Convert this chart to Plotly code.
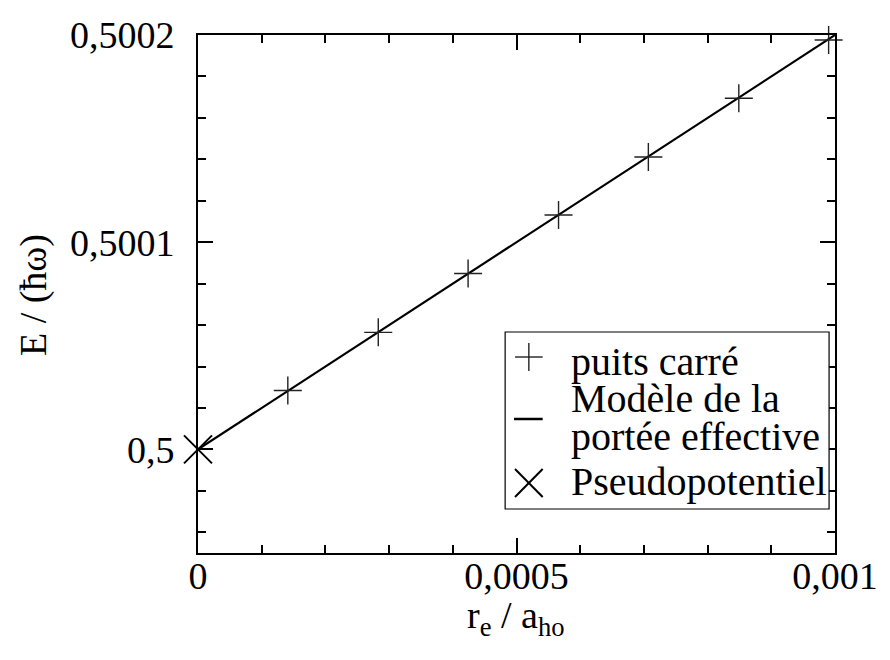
import plotly.graph_objects as go

# Square-well results: ground-state energy vs effective range
r_puits = [0.000141, 0.000283, 0.000424, 0.000566, 0.000707, 0.000849, 0.000990]
E_puits = [0.5000284, 0.5000565, 0.5000849, 0.5001131, 0.5001411, 0.5001695, 0.5001976]

# Effective-range model (straight line)
r_modele = [0.0, 0.001]
E_modele = [0.5, 0.5002]

# Pseudopotential (zero range)
r_pseudo = [0.0]
E_pseudo = [0.5]

# Axis ticks
x_tickvals = [0.0, 0.0005, 0.001]
x_ticktext = ["0", "0,0005", "0,001"]
y_tickvals = [0.5, 0.5001, 0.5002]
y_ticktext = ["0,5", "0,5001", "0,5002"]

legend_labels = ["puits carré", "Modèle de la", "portée effective", "Pseudopotentiel"]

FONT = "Liberation Serif"
FS = 38
FS_LEG = 40

W, H = 890, 660
L, R, T, B = 198, 843, 35, 553


def px(p):
    return (p - L) / (R - L)


def py(p):
    return (B - p) / (B - T)


fig = go.Figure()

fig.add_trace(go.Scatter(
    x=r_modele, y=E_modele, mode="lines",
    line=dict(color="black", width=2.2),
    showlegend=False, cliponaxis=False,
))
fig.add_trace(go.Scatter(
    x=r_puits, y=E_puits, mode="markers",
    marker=dict(symbol="cross-thin", size=20, line=dict(color="#222", width=1.4)),
    showlegend=False, cliponaxis=False,
))
fig.add_trace(go.Scatter(
    x=r_pseudo, y=E_pseudo, mode="markers",
    marker=dict(symbol="x-thin", size=28, line=dict(color="black", width=2)),
    showlegend=False, cliponaxis=False,
))

axis_common = dict(
    showline=True, linecolor="black", linewidth=2,
    mirror="ticks", ticks="inside", ticklen=15, tickwidth=1.5, tickcolor="black",
    showgrid=False, zeroline=False,
    tickfont=dict(family=FONT, size=FS, color="black"),
)

fig.update_xaxes(
    range=[0, 0.001], tickmode="array", tickvals=x_tickvals, ticktext=x_ticktext,
    minor=dict(tickmode="linear", tick0=0, dtick=0.0001, ticks="inside",
               ticklen=8, tickwidth=1.5, tickcolor="black"),
    ticklabelstandoff=-12,
    **axis_common,
)
fig.update_yaxes(
    range=[0.49995, 0.5002], tickmode="array", tickvals=y_tickvals, ticktext=y_ticktext,
    minor=dict(tickmode="linear", tick0=0.5, dtick=0.00002, ticks="inside",
               ticklen=8, tickwidth=1.5, tickcolor="black"),
    ticklabelstandoff=14,
    **axis_common,
)

shapes = []
annotations = []

# Legend frame
shapes.append(dict(type="rect", xref="paper", yref="paper",
                   x0=px(509), x1=px(837), y0=py(509), y1=py(332),
                   line=dict(color="black", width=1.2), fillcolor="white", layer="above"))
# Legend symbols
sx, sr = 533, 14
shapes += [
    dict(type="line", xref="paper", yref="paper", x0=px(sx - sr), x1=px(sx + sr),
         y0=py(357), y1=py(357), line=dict(color="#222", width=1.4)),
    dict(type="line", xref="paper", yref="paper", x0=px(sx), x1=px(sx),
         y0=py(357 - sr), y1=py(357 + sr), line=dict(color="#222", width=1.4)),
    dict(type="line", xref="paper", yref="paper", x0=px(518), x1=px(547),
         y0=py(419), y1=py(419), line=dict(color="black", width=2.5)),
    dict(type="line", xref="paper", yref="paper", x0=px(sx - sr), x1=px(sx + sr),
         y0=py(483 - sr), y1=py(483 + sr), line=dict(color="black", width=2)),
    dict(type="line", xref="paper", yref="paper", x0=px(sx - sr), x1=px(sx + sr),
         y0=py(483 + sr), y1=py(483 - sr), line=dict(color="black", width=2)),
]
for label, yc in zip(legend_labels, [361, 398, 436, 481]):
    annotations.append(dict(text=label, xref="paper", yref="paper",
                            x=px(574), y=py(yc), xanchor="left", yanchor="middle",
                            showarrow=False, font=dict(family=FONT, size=FS_LEG, color="black")))

# Axis titles
annotations.append(dict(text="r<sub>e</sub> / a<sub>ho</sub>", xref="paper", yref="paper",
                        x=px(520), y=py(618), xanchor="center", yanchor="middle",
                        showarrow=False, font=dict(family=FONT, size=FS, color="black")))
annotations.append(dict(text="E / (ħω)", xref="paper", yref="paper",
                        x=px(31), y=py(295), xanchor="center", yanchor="middle",
                        textangle=-90,
                        showarrow=False, font=dict(family=FONT, size=FS, color="black")))

fig.update_layout(
    width=W, height=H, autosize=False,
    margin=dict(l=L, r=W - R, t=T, b=H - B, pad=0),
    paper_bgcolor="white", plot_bgcolor="white",
    font=dict(family=FONT, size=FS, color="black"),
    shapes=shapes, annotations=annotations,
    showlegend=False,
)

fig.write_html("out.html")
